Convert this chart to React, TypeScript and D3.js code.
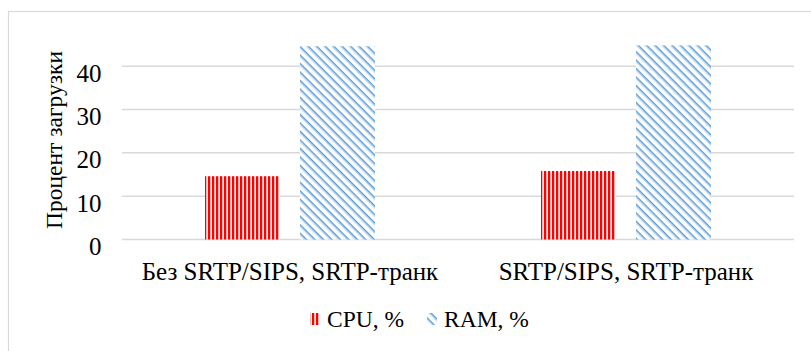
import React from "react";
import * as d3 from "d3";

const categories = ["Без SRTP/SIPS, SRTP-транк", "SRTP/SIPS, SRTP-транк"];
const seriesNames = ["CPU, %", "RAM, %"];
const cpuValues = [14.6, 15.8];
const ramValues = [44.6, 44.8];
const yTicks = [0, 10, 20, 30, 40];
const yTitle = "Процент загрузки";

const W = 811;
const H = 351;
const fontStyle = { fontFamily: "Liberation Serif" };

export default function App() {
  const left = 122;
  const right = 794;
  const y = d3.scaleLinear().domain([0, 50]).range([239.5, 239.5 - 216.7]);
  const x0 = d3.scaleBand<string>().domain(categories).range([left, right]).padding(0);
  const groupW = 170;
  const x1 = d3
    .scaleBand<string>()
    .domain(seriesNames)
    .range([0, groupW])
    .paddingInner(2 - 170 / 95)
    .paddingOuter(0);
  const values = [cpuValues, ramValues];
  const fills = ["url(#cpuPat)", "url(#ramPat)"];

  return (
    <svg
      width={W}
      height={H}
      style={{ position: "absolute", left: 0, top: 0, background: "#fff" }}
    >
      <defs>
        <pattern id="cpuPat" width={4} height={4} patternUnits="userSpaceOnUse">
          <rect x={0} y={0} width={4} height={4} fill="#fff" />
          <rect x={0} y={0} width={2.3} height={4} fill="#ff0000" />
          <rect x={2.3} y={0} width={0.8} height={4} fill="#ffb3b3" />
        </pattern>
        <pattern
          id="ramPat"
          width={6}
          height={6}
          patternUnits="userSpaceOnUse"
          patternTransform="rotate(45)"
        >
          <rect x={0} y={0} width={6} height={6} fill="#fff" />
          <rect x={0} y={0} width={6} height={1.6} fill="#5b9bd5" />
          <rect x={0} y={1.6} width={6} height={0.9} fill="#bcd6f0" />
        </pattern>
      </defs>
      <rect x={8.5} y={11.5} width={W} height={H} fill="none" stroke="#d9d9d9" strokeWidth={1.2} />

      {yTicks.map((t) => (
        <g key={t}>
          <line
            x1={left}
            x2={right}
            y1={y(t)}
            y2={y(t)}
            stroke="#d9d9d9"
            strokeWidth={1.5}
          />
          <text
            x={101.5}
            y={y(t) + 7}
            textAnchor="end"
            dominantBaseline="central"
            fontSize={25}
            fill="#000"
            style={fontStyle}
          >
            {t}
          </text>
        </g>
      ))}

      {categories.map((c, ci) => {
        const gx = (x0(c) as number) + (x0.bandwidth() - groupW) / 2;
        return (
          <g key={c}>
            {seriesNames.map((s, si) => {
              const v = values[si][ci];
              return (
                <rect
                  key={s}
                  x={gx + (x1(s) as number)}
                  y={y(v)}
                  width={x1.bandwidth()}
                  height={y(0) - y(v)}
                  fill={fills[si]}
                />
              );
            })}
            <text
              x={(x0(c) as number) + x0.bandwidth() / 2}
              y={280}
              textAnchor="middle"
              fontSize={25}
              fill="#000"
              style={fontStyle}
            >
              {c}
            </text>
          </g>
        );
      })}

      <text
        transform={`translate(62, ${140}) rotate(-90)`}
        textAnchor="middle"
        fontSize={23.5}
        fill="#000"
        style={fontStyle}
      >
        {yTitle}
      </text>

      {seriesNames.map((s, si) => {
        const lx = si === 0 ? 310 : 427;
        return (
          <g key={s}>
            <rect x={lx} y={313} width={10} height={12} fill={fills[si]} />
            <text x={lx + 17} y={327} fontSize={23.5} fill="#000" style={fontStyle}>
              {s}
            </text>
          </g>
        );
      })}
    </svg>
  );
}
